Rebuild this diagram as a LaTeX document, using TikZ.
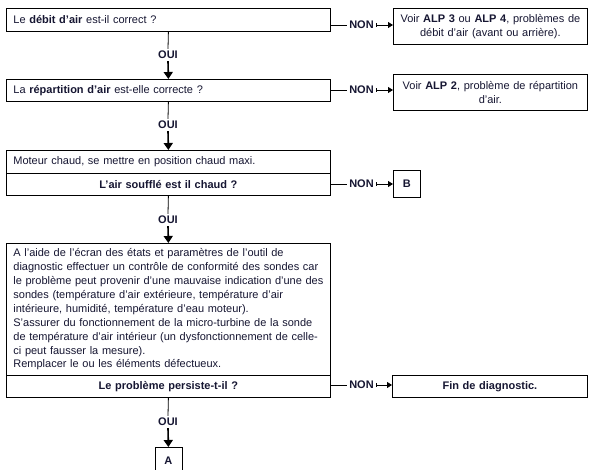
\documentclass[tikz,border=0pt]{standalone}
\usepackage{fontspec}
\setmainfont{Liberation Sans}
\usetikzlibrary{arrows.meta}
\definecolor{txt}{RGB}{22,22,50}
\newcommand\tline[1]{\mbox{#1}}
\tikzset{
  every node/.style={text=txt, font=\fontsize{11}{14.6}\selectfont},
  lbox/.style={draw, line width=0.8pt, anchor=north west, inner xsep=7pt, inner ysep=0pt,
    text width=310pt, align=left},
  cbox/.style={draw, line width=0.8pt, anchor=north west, inner xsep=7pt, inner ysep=0pt,
    text width=310pt, align=center, font=\fontsize{11}{14.6}\selectfont\bfseries},
  rbox/.style={draw, line width=0.8pt, anchor=north west, inner xsep=4pt, inner ysep=0pt,
    text width=186pt, align=center, minimum height=36pt},
  lettbox/.style={draw, line width=0.8pt, anchor=north west, inner sep=0pt,
    font=\fontsize{11}{14.6}\selectfont\bfseries},
  lbl/.style={inner sep=2pt, font=\fontsize{11}{14.6}\selectfont\bfseries},
  conn/.style={line width=0.8pt},
  bigarrow/.style={line width=1.6pt, -{Triangle[length=7pt,width=9pt]}},
  smallarrow/.style={line width=0.8pt, {Bar[width=3.5pt,line width=0.8pt]}-{Triangle[length=5pt,width=6pt]}},
}
\begin{document}
\begin{tikzpicture}[x=1pt,y=-1pt]
\useasboundingbox (0,0) rectangle (592,470);
\fill[white] (0,0) rectangle (592,470);

% Step 1
\node[lbox, minimum height=23pt] (q1) at (6,8) {Le \textbf{débit d'air} est-il correct ?};
\node[rbox] (r1) at (393,8) {Voir \textbf{ALP 3} ou \textbf{ALP 4}, problèmes de\\ débit d'air (avant ou arrière).};
\node[lbl] (n1) at (361.5,25) {NON};
\draw[conn] (q1.east |- n1) -- (n1.west);
\draw[smallarrow] (n1.east) -- (r1.west |- n1);
\node[lbl] (o1) at (168,55) {OUI};
\draw[conn] (q1.south) -- (o1.north);

% Step 2
\node[lbox, minimum height=22pt] (q2) at (6,79) {La \textbf{répartition d'air} est-elle correcte ?};
\draw[bigarrow] (o1.south) -- (q2.north);
\node[rbox] (r2) at (393,74) {Voir \textbf{ALP 2}, problème de répartition\\ d'air.};
\node[lbl] (n2) at (361.5,90) {NON};
\draw[conn] (q2.east |- n2) -- (n2.west);
\draw[smallarrow] (n2.east) -- (r2.west |- n2);
\node[lbl] (o2) at (168,125) {OUI};
\draw[conn] (q2.south) -- (o2.north);

% Step 3
\node[lbox, minimum height=23pt] (q3a) at (6,150) {Moteur chaud, se mettre en position chaud maxi.};
\draw[bigarrow] (o2.south) -- (q3a.north);
\node[cbox, minimum height=22pt] (q3b) at (6,173) {L'air soufflé est il chaud ?};
\node[lettbox, minimum width=27pt, minimum height=27pt] (B) at (393,170) {B};
\node[lbl] (n3) at (361.5,184) {NON};
\draw[conn] (q3b.east |- n3) -- (n3.west);
\draw[smallarrow] (n3.east) -- (B.west |- n3);
\node[lbl] (o3) at (168,220) {OUI};
\draw[conn] (q3b.south) -- (o3.north);

% Step 4
\node[lbox, minimum height=132pt, font=\fontsize{11}{13.9}\selectfont] (q4a) at (6,243) {\tline{A l'aide de l'écran des états et paramètres de l'outil de}\\
\tline{diagnostic effectuer un contrôle de conformité des sondes car}\\
\tline{le problème peut provenir d'une mauvaise indication d'une des}\\
\tline{sondes (température d'air extérieure, température d'air}\\
\tline{intérieure, humidité, température d'eau moteur).}\\
\tline{S'assurer du fonctionnement de la micro-turbine de la sonde}\\
\tline{de température d'air intérieur (un dysfonctionnement de celle-}\\
\tline{ci peut fausser la mesure).}\\
\tline{Remplacer le ou les éléments défectueux.}};
\draw[bigarrow] (o3.south) -- (q4a.north);
\node[cbox, minimum height=22pt] (q4b) at (6,375) {Le problème persiste-t-il ?};
\node[rbox, minimum height=22pt, text width=187pt, font=\fontsize{11}{14.6}\selectfont\bfseries] (fin) at (392,375) {Fin de diagnostic.};
\node[lbl] (n4) at (361.5,385) {NON};
\draw[conn] (q4b.east |- n4) -- (n4.west);
\draw[smallarrow] (n4.east) -- (fin.west |- n4);
\node[lbl] (o4) at (168,422) {OUI};
\draw[conn] (q4b.south) -- (o4.north);
\node[lettbox, minimum width=27pt, minimum height=27pt] (A) at (154.5,447) {A};
\draw[bigarrow] (o4.south) -- (A.north);
\end{tikzpicture}
\end{document}
